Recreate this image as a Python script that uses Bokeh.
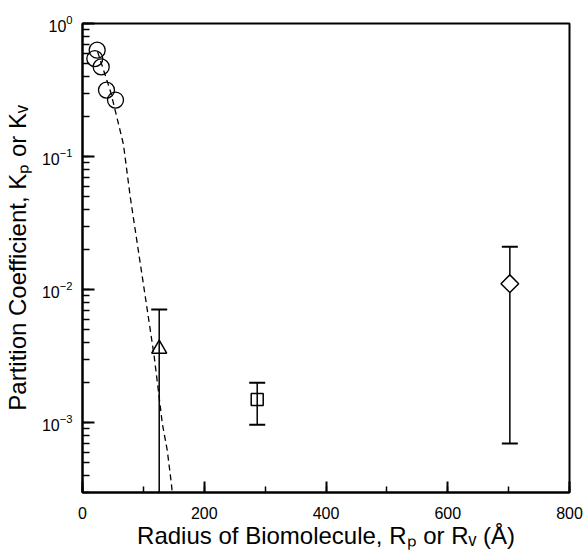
import numpy as np
from bokeh.plotting import figure
from bokeh.models import SingleIntervalTicker, LogTicker
from bokeh.embed import file_html
from bokeh.resources import INLINE

# ---- data ----
circ_R = [20.2, 24.1, 30.7, 39.4, 54.2]
circ_K = [0.545, 0.63, 0.472, 0.316, 0.266]

# error-bar points: triangle, square, diamond
err_R = [126.0, 287.0, 702.0]
err_K = [0.0036, 0.0015, 0.0111]
err_hi = [0.0071, 0.0020, 0.021]
err_lo = [1e-5, 0.00097, 0.0007]

# dashed model curve
fit_R = [24.6, 45.9, 54.1, 67.2, 78.7, 104.9, 111.5, 118.0, 124.6, 131.1, 139.3, 145.9, 147.5]
fit_K = [0.617, 0.310, 0.219, 0.124, 0.0489, 0.00785, 0.00493, 0.00310, 0.00175,
         0.00099, 0.00062, 0.000352, 0.000300]

y_tick_labels = {"1": "10⁰", "0.1": "10⁻¹", "0.01": "10⁻²", "0.001": "10⁻³"}
x_title = "Radius of Biomolecule, Rₚ or Rᵥ (Å)"
y_title = "Partition Coefficient, Kₚ or Kᵥ"

FONT = "Liberation Sans"
W, H = 586, 552

p = figure(width=W, height=H, x_range=(0, 800), y_range=(3e-4, 1.0), y_axis_type="log",
           output_backend="svg", toolbar_location=None,
           min_border_left=82, min_border_right=17, min_border_top=23, min_border_bottom=60)
p.grid.visible = False
p.outline_line_color = "black"
p.outline_line_width = 2
p.background_fill_color = "white"
p.border_fill_color = "white"

xa = p.xaxis[0]
xa.ticker = SingleIntervalTicker(interval=200, num_minor_ticks=2)
xa.major_tick_in = 11
xa.major_tick_out = 0
xa.minor_tick_in = 6
xa.minor_tick_out = 0
xa.axis_line_width = 2
xa.major_tick_line_width = 2
xa.minor_tick_line_width = 1.5
xa.major_label_text_font = FONT
xa.major_label_text_font_size = "16px"
xa.major_label_text_color = "black"
xa.major_label_standoff = 14
xa.axis_label = x_title
xa.axis_label_text_font = FONT
xa.axis_label_text_font_size = "24px"
xa.axis_label_text_font_style = "normal"
xa.axis_label_text_color = "black"
xa.axis_label_standoff = 0

ya = p.yaxis[0]
ya.ticker = LogTicker(num_minor_ticks=10)
ya.major_tick_in = 12
ya.major_tick_out = 0
ya.minor_tick_in = 7
ya.minor_tick_out = 0
ya.axis_line_width = 2
ya.major_tick_line_width = 2
ya.minor_tick_line_width = 1.5
ya.major_label_overrides = y_tick_labels
ya.major_label_text_font = FONT
ya.major_label_text_font_size = "16px"
ya.major_label_text_color = "black"
ya.major_label_standoff = 10
ya.axis_label = y_title
ya.axis_label_text_font = FONT
ya.axis_label_text_font_size = "24px"
ya.axis_label_text_font_style = "normal"
ya.axis_label_text_color = "black"
ya.axis_label_standoff = 8

# ---- marks ----
p.line(fit_R, fit_K, line_color="black", line_width=1.3, line_dash="6 4")
p.segment(x0=err_R, y0=err_lo, x1=err_R, y1=err_hi, line_color="black", line_width=1.5)
p.scatter(err_R + err_R, err_lo + err_hi, marker="dash", size=16, line_color="black", line_width=2)
p.scatter(circ_R, circ_K, marker="circle", size=16, fill_color=None, line_color="black", line_width=1.3)
p.scatter(err_R[0:1], err_K[0:1], marker="triangle", size=15, fill_color=None, line_color="black", line_width=1.5)
p.scatter(err_R[1:2], err_K[1:2], marker="square", size=12, fill_color=None, line_color="black", line_width=1.5)
p.scatter(err_R[2:3], err_K[2:3], marker="square", angle=np.pi / 4, size=12.5, fill_color="white",
          line_color="black", line_width=1.5)

open("out.html", "w").write(file_html(p, INLINE))
